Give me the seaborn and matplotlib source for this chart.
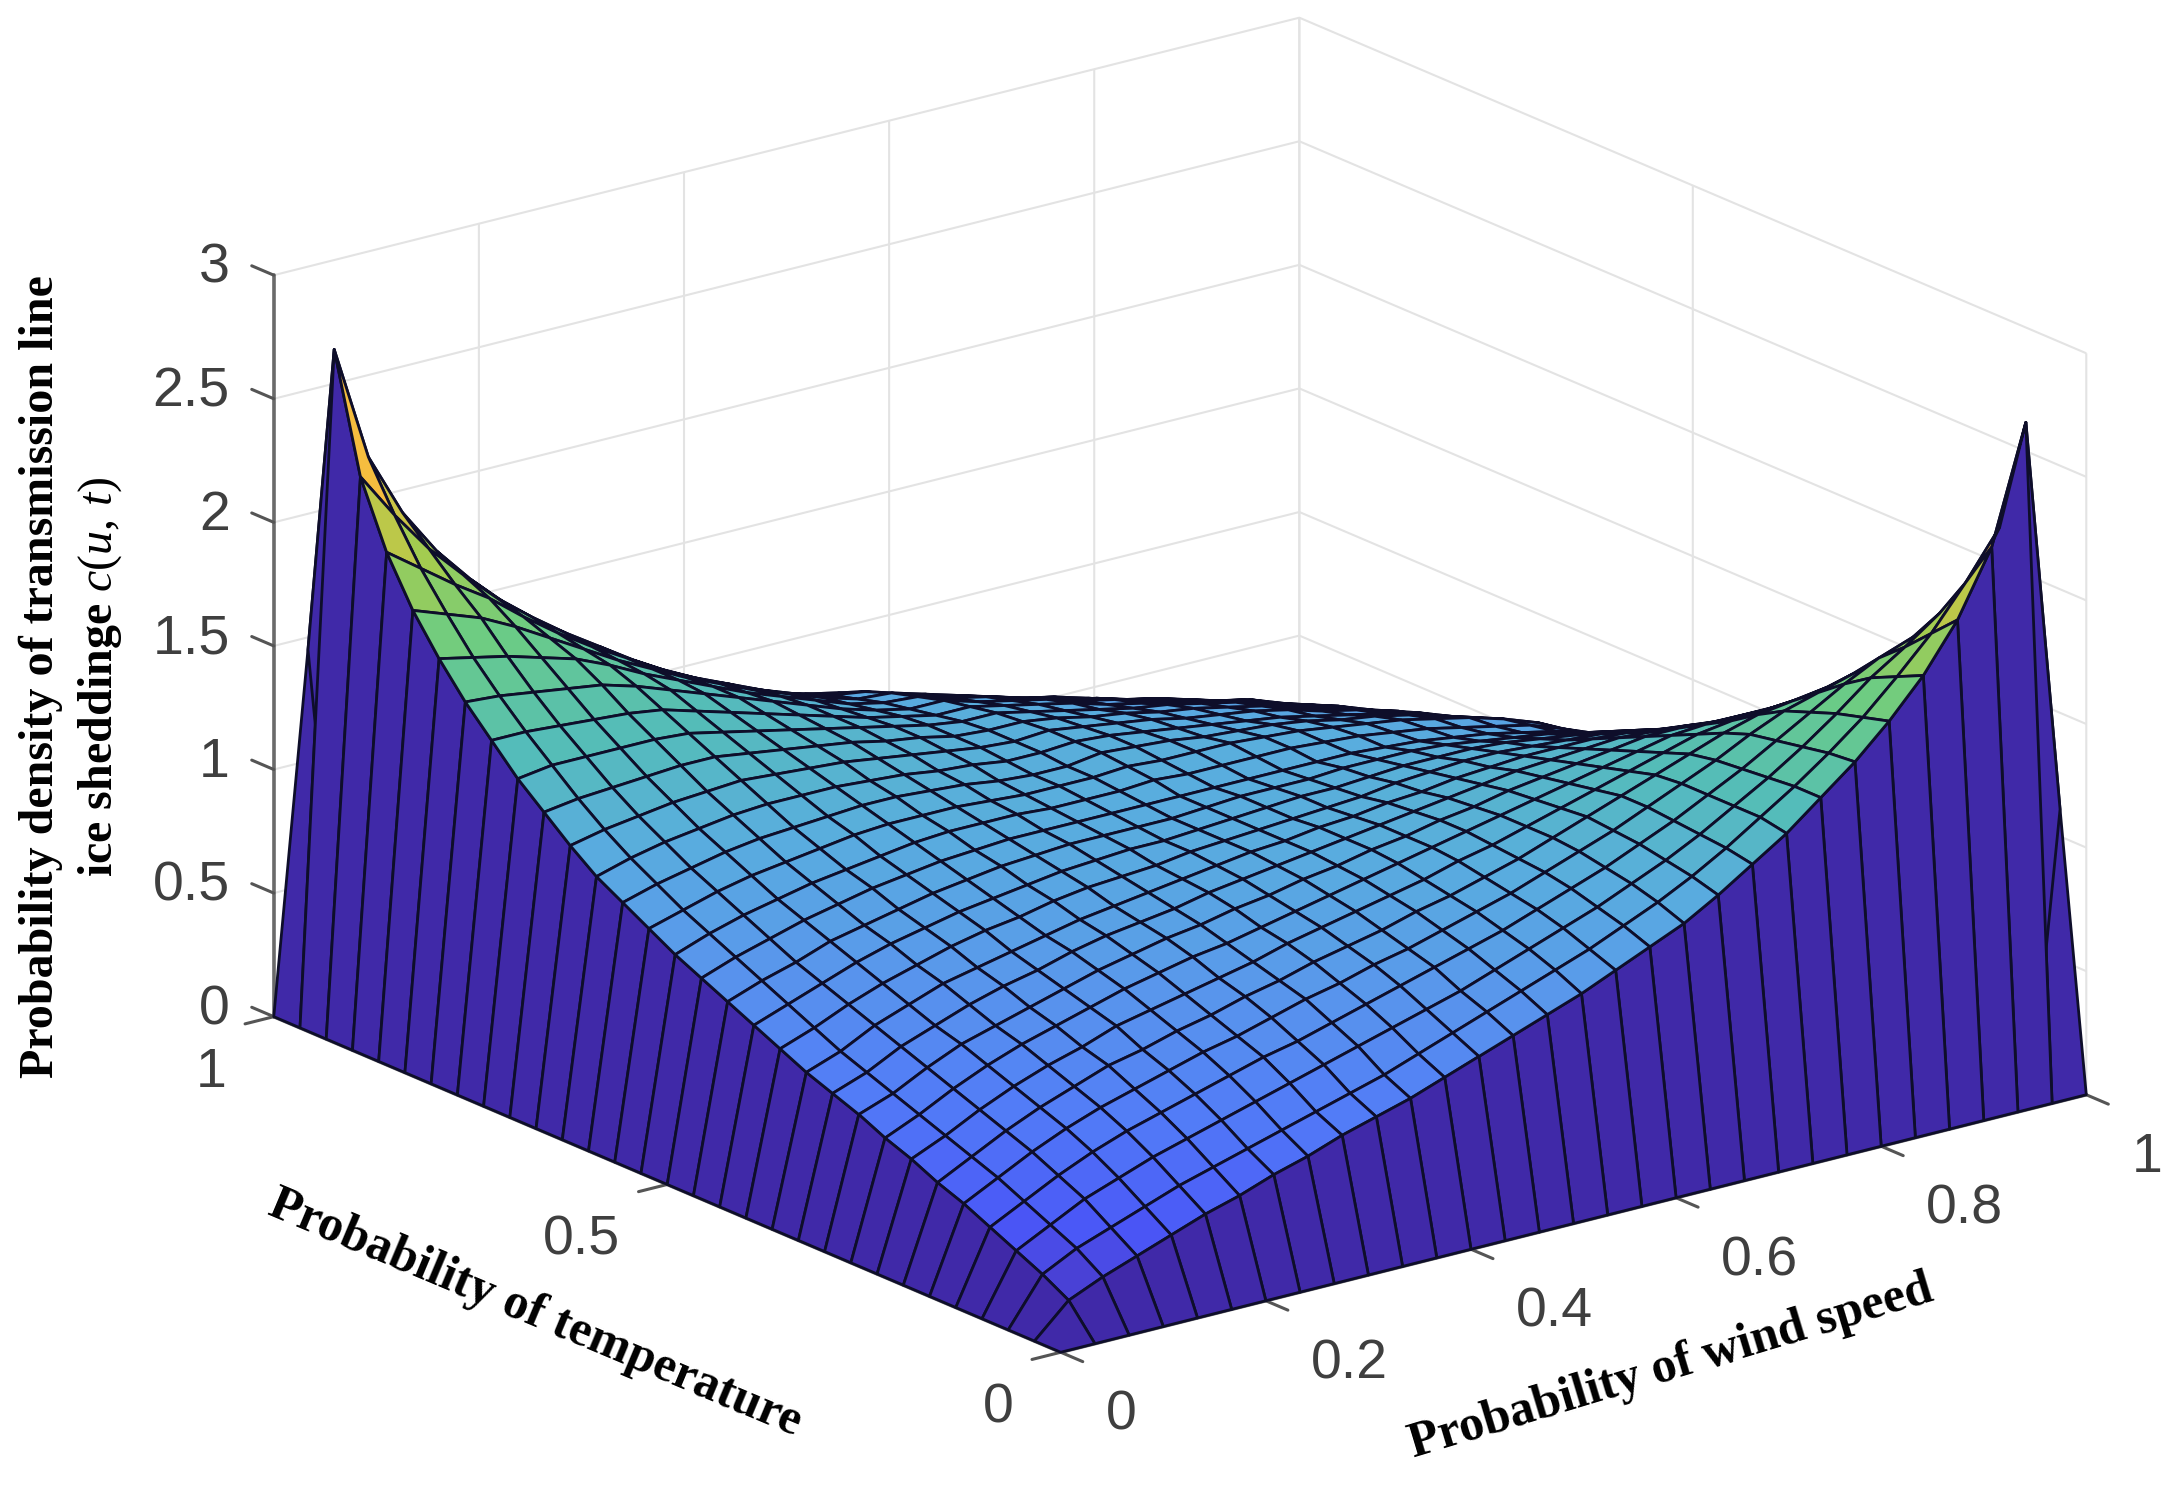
import numpy as np
import matplotlib
matplotlib.use("Agg")
import matplotlib.pyplot as plt
from matplotlib.colors import LinearSegmentedColormap, Normalize
from mpl_toolkits.mplot3d import proj3d
import seaborn as sns

sns.set_theme(style="white")
plt.rcParams["font.family"] = ["Liberation Sans", "DejaVu Sans"]
plt.rcParams["mathtext.fontset"] = "custom"
plt.rcParams["mathtext.it"] = "Liberation Serif:italic"
plt.rcParams["mathtext.rm"] = "Liberation Serif"

wind_speed = [i / 30 for i in range(31)]
temperature = [j / 30 for j in range(31)]

# density[row = temperature step][column = wind-speed step]
density = [
[0]*31,
[0,.13,.19,.24,.29,.34,.38,.43,.47,.52,.56,.60,.65,.70,.75,.80,.85,.91,.97,1.03,1.11,1.20,1.29,1.40,1.51,1.64,1.79,1.98,2.24,2.71,1.11],
[0,.19,.26,.31,.36,.41,.45,.49,.53,.57,.61,.65,.70,.75,.80,.85,.90,.95,1.01,1.07,1.14,1.22,1.31,1.40,1.50,1.61,1.74,1.88,2.05,2.24,0],
[0,.24,.31,.38,.43,.48,.52,.56,.60,.64,.68,.72,.76,.80,.84,.89,.94,.99,1.04,1.10,1.16,1.23,1.31,1.39,1.48,1.58,1.69,1.78,1.88,1.98,0],
[0,.29,.36,.43,.49,.54,.58,.62,.66,.70,.73,.77,.81,.85,.89,.93,.97,1.02,1.07,1.12,1.18,1.24,1.31,1.38,1.46,1.54,1.62,1.69,1.74,1.79,0],
[0,.34,.41,.48,.54,.59,.63,.67,.71,.74,.78,.82,.85,.89,.92,.96,1.00,1.04,1.09,1.14,1.19,1.25,1.31,1.37,1.44,1.50,1.54,1.58,1.61,1.64,0],
[0,.38,.45,.52,.58,.63,.68,.71,.75,.78,.82,.85,.89,.92,.95,.99,1.02,1.06,1.10,1.15,1.20,1.25,1.30,1.35,1.40,1.44,1.46,1.48,1.50,1.51,0],
[0,.43,.49,.56,.62,.67,.71,.76,.79,.82,.85,.88,.92,.95,.98,1.01,1.04,1.08,1.11,1.15,1.19,1.23,1.27,1.31,1.35,1.37,1.38,1.39,1.40,1.40,0],
[0,.47,.53,.60,.66,.71,.75,.79,.83,.86,.89,.91,.94,.97,1.00,1.03,1.06,1.09,1.12,1.15,1.18,1.21,1.24,1.27,1.30,1.31,1.31,1.31,1.31,1.29,0],
[0,.52,.57,.64,.70,.74,.78,.82,.86,.89,.92,.94,.97,.99,1.02,1.04,1.07,1.09,1.12,1.14,1.17,1.19,1.21,1.23,1.25,1.25,1.24,1.23,1.22,1.20,0],
[0,.56,.61,.68,.73,.78,.82,.85,.89,.92,.94,.96,.99,1.01,1.03,1.05,1.07,1.09,1.11,1.13,1.15,1.17,1.18,1.19,1.20,1.19,1.18,1.16,1.14,1.11,0],
[0,.60,.65,.72,.77,.82,.85,.88,.91,.94,.96,.98,1.00,1.02,1.04,1.05,1.07,1.08,1.10,1.11,1.13,1.14,1.15,1.15,1.15,1.14,1.12,1.10,1.07,1.03,0],
[0,.65,.70,.76,.81,.85,.89,.92,.94,.97,.99,1.00,1.01,1.03,1.04,1.05,1.06,1.07,1.08,1.10,1.11,1.12,1.12,1.11,1.10,1.09,1.07,1.04,1.01,.97,0],
[0,.70,.75,.80,.85,.89,.92,.95,.97,.99,1.01,1.02,1.03,1.03,1.04,1.05,1.06,1.07,1.07,1.08,1.09,1.09,1.09,1.08,1.06,1.04,1.02,.99,.95,.91,0],
[0,.75,.80,.84,.89,.92,.95,.98,1.00,1.02,1.03,1.04,1.04,1.04,1.04,1.05,1.06,1.06,1.06,1.07,1.07,1.07,1.06,1.04,1.02,1.00,.97,.94,.90,.85,0],
[0,.80,.85,.89,.93,.96,.99,1.01,1.03,1.04,1.05,1.05,1.05,1.05,1.05,1.05,1.05,1.05,1.05,1.05,1.05,1.04,1.03,1.01,.99,.96,.93,.89,.85,.80,0],
[0,.85,.90,.94,.97,1.00,1.02,1.04,1.06,1.07,1.07,1.07,1.06,1.06,1.06,1.07,1.06,1.06,1.06,1.06,1.05,1.04,1.02,1.00,.97,.94,.91,.86,.80,.75,0],
[0,.91,.95,.99,1.02,1.04,1.06,1.08,1.09,1.09,1.09,1.08,1.07,1.07,1.07,1.08,1.07,1.07,1.07,1.06,1.05,1.03,1.01,.99,.96,.93,.89,.84,.77,.70,0],
[0,.97,1.01,1.04,1.07,1.09,1.10,1.11,1.12,1.12,1.11,1.10,1.08,1.07,1.07,1.09,1.08,1.07,1.05,1.04,1.03,1.01,.98,.96,.93,.89,.85,.80,.72,.65,0],
[0,1.03,1.07,1.10,1.12,1.14,1.15,1.15,1.15,1.14,1.13,1.11,1.10,1.08,1.08,1.09,1.08,1.06,1.04,1.02,1.00,.98,.95,.92,.89,.86,.81,.76,.67,.60,0],
[0,1.11,1.14,1.16,1.18,1.19,1.20,1.19,1.18,1.17,1.15,1.13,1.11,1.09,1.08,1.09,1.07,1.05,1.03,1.00,.98,.96,.93,.89,.86,.82,.77,.72,.63,.56,0],
[0,1.20,1.22,1.23,1.24,1.25,1.25,1.23,1.21,1.19,1.17,1.14,1.12,1.09,1.08,1.08,1.06,1.03,1.01,.98,.96,.93,.90,.86,.82,.78,.74,.68,.59,.52,0],
[0,1.29,1.31,1.31,1.31,1.31,1.30,1.27,1.24,1.21,1.18,1.15,1.12,1.09,1.07,1.07,1.04,1.01,.98,.95,.93,.90,.87,.83,.79,.75,.70,.64,.55,.47,0],
[0,1.40,1.40,1.39,1.38,1.37,1.35,1.31,1.27,1.23,1.19,1.15,1.11,1.08,1.05,1.05,1.02,.99,.96,.92,.89,.86,.83,.80,.75,.71,.66,.60,.51,.43,0],
[0,1.51,1.50,1.48,1.46,1.44,1.40,1.35,1.30,1.25,1.20,1.15,1.10,1.06,1.03,1.03,.99,.96,.93,.89,.86,.82,.79,.75,.72,.67,.62,.56,.47,.38,0],
[0,1.64,1.61,1.58,1.54,1.50,1.44,1.37,1.31,1.25,1.19,1.14,1.09,1.04,1.01,1.00,.96,.93,.89,.86,.82,.78,.75,.71,.67,.63,.58,.52,.43,.34,0],
[0,1.79,1.74,1.69,1.62,1.54,1.46,1.38,1.31,1.24,1.18,1.12,1.07,1.02,.98,.97,.93,.89,.85,.81,.77,.74,.70,.66,.62,.58,.53,.47,.38,.29,0],
[0,1.98,1.88,1.78,1.69,1.58,1.48,1.39,1.31,1.23,1.16,1.10,1.04,.99,.95,.93,.88,.84,.80,.76,.72,.68,.64,.60,.56,.52,.47,.42,.33,.24,0],
[0,2.24,2.05,1.88,1.74,1.61,1.50,1.40,1.31,1.22,1.14,1.07,1.01,.95,.91,.88,.83,.78,.73,.68,.64,.60,.56,.52,.48,.44,.39,.34,.28,.19,0],
[0,2.71,2.24,1.98,1.79,1.64,1.51,1.40,1.29,1.20,1.11,1.03,.97,.91,.85,.80,.75,.70,.65,.60,.56,.52,.47,.43,.38,.34,.29,.24,.19,.13,0],
[0,1.45,0,0,0,0,0,0,0,0,0,0,0,0,0,0,0,0,0,0,0,0,0,0,0,0,0,0,0,0,0],
]

x_ticks = [0, 0.2, 0.4, 0.6, 0.8, 1]
x_tick_labels = ["0", "0.2", "0.4", "0.6", "0.8", "1"]
y_ticks = [0, 0.5, 1]
y_tick_labels = ["0", "0.5", "1"]
z_ticks = [0, 0.5, 1, 1.5, 2, 2.5, 3]
z_tick_labels = ["0", "0.5", "1", "1.5", "2", "2.5", "3"]

surface_colors = [
    (0.00, (0.25, 0.16, 0.66)), (0.05, (0.29, 0.26, 0.85)), (0.09, (0.29, 0.34, 0.97)),
    (0.185, (0.32, 0.48, 0.97)), (0.30, (0.35, 0.60, 0.92)), (0.39, (0.35, 0.68, 0.87)),
    (0.48, (0.33, 0.74, 0.72)), (0.59, (0.42, 0.80, 0.52)), (0.70, (0.65, 0.80, 0.30)),
    (0.82, (0.96, 0.74, 0.25)), (0.92, (0.98, 0.78, 0.20)), (1.00, (0.98, 0.98, 0.10)),
]
cmap = LinearSegmentedColormap.from_list("parula_like", surface_colors)

W, H = 2183, 1485
fig = plt.figure(figsize=(W / 100, H / 100), dpi=100, facecolor="white")
S = 2400
ax = fig.add_axes([(1180 - 0.5135 * S) / W, (800 - 0.5135 * S) / H, S / W, S / H],
                  projection="3d", proj_type="ortho", facecolor="none")
ax.view_init(elev=19.1, azim=-127.5)
ax.set_box_aspect((1, 1, 0.607), zoom=0.8047)

U, T = np.meshgrid(wind_speed, temperature)
Z = np.array(density, dtype=float)
norm = Normalize(0, 2.71)
face = cmap(norm(Z))
# the two corner cells behind the peaks show only the wall colour
face[1, 29] = face[0, 0]
face[29, 1] = face[0, 0]
ax.plot_surface(U, T, Z, rstride=1, cstride=1, facecolors=face, shade=False,
                edgecolor="#0e0e2a", linewidth=2.0, antialiased=True)

ax.set_xlim(0, 1)
ax.set_ylim(0, 1)
ax.set_zlim(0, 3)
ax.set_xticks(x_ticks)
ax.set_yticks(y_ticks)
ax.set_zticks(z_ticks)
ax.set_xticklabels([])
ax.set_yticklabels([])
ax.set_zticklabels([])
ax.zaxis._AXINFO = {k: dict(v) for k, v in ax.zaxis._AXINFO.items()}
ax.zaxis._AXINFO["z"]["tickdir"] = 1
for axis, out in ((ax.xaxis, -0.35), (ax.yaxis, -0.35), (ax.zaxis, 0.35)):
    axis.set_pane_color((1, 1, 1, 0))
    axis.pane.set_edgecolor((1, 1, 1, 0))
    axis.line.set_color("#6a6a6a")
    axis.line.set_linewidth(2.6)
    axis._axinfo["grid"].update(color="#e3e3e3", linewidth=1.5)
    axis._axinfo["tick"].update(inward_factor=0.0, outward_factor=out, linewidth={True: 2.2, False: 2.2})
ax.tick_params(color="#555555")


def label_at(x, y, z, text, ha):
    px, py, _ = proj3d.proj_transform(x, y, z, ax.get_proj())
    ax.text2D(px, py, text, transform=ax.transData, ha=ha, va="center", fontsize=40,
              color="#3f3f3f", family="Liberation Sans", zorder=50)


for v, s in zip(x_ticks, x_tick_labels):
    label_at(v, -0.0532 - 0.004, -0.18, s, "left")
for v, s in zip(y_ticks, y_tick_labels):
    label_at(-0.049 + 0.003, v, -0.18, s, "right")
for v, s in zip(z_ticks, z_tick_labels):
    label_at(0, 1.0557, v - 0.05, s, "right")

label_style = dict(fontweight="bold", family="Liberation Serif", color="black",
                   ha="center", va="center", rotation_mode="anchor")
fig.text(535 / W, 1 - 1314 / H, "Probability of temperature", rotation=-22.8, fontsize=36, **label_style)
fig.text(1671 / W, 1 - 1367 / H, "Probability of wind speed", rotation=16.8, fontsize=36, **label_style)
fig.text(41 / W, 1 - 677 / H, "Probability density of transmission line", rotation=90, fontsize=34.6, **label_style)
fig.text(100 / W, 1 - 677 / H, r"ice sheddinge $c(u,\,t)$", rotation=90, fontsize=34.6, **label_style)

fig.savefig("out.png", dpi=100, facecolor="white")
